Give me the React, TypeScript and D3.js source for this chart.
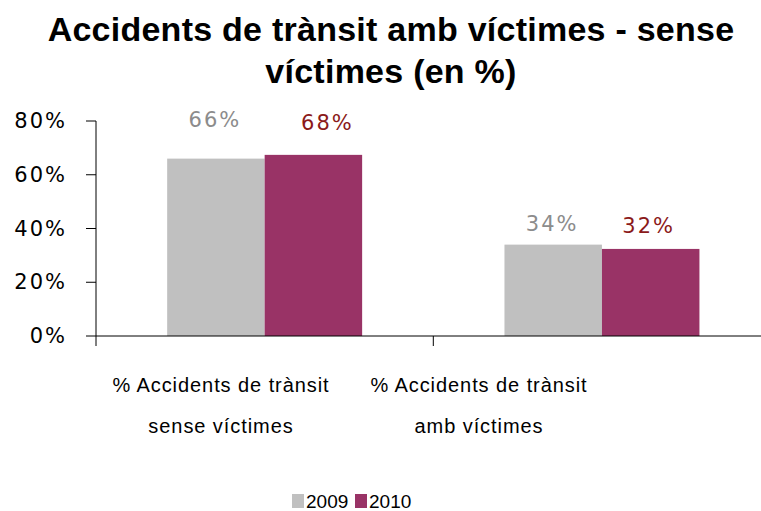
import React from "react";
import * as d3 from "d3";

const categories = ["sense", "amb"];
const categoryLines = [
  ["% Accidents de trànsit", "sense víctimes"],
  ["% Accidents de trànsit", "amb víctimes"],
];
const seriesNames = ["2009", "2010"];
const values2009 = [66, 34];
const values2010 = [67.4, 32.4];
const valueLabels2009 = ["66%", "34%"];
const valueLabels2010 = ["68%", "32%"];
const yTicks = [0, 20, 40, 60, 80];
const titleLines = ["Accidents de trànsit amb víctimes - sense", "víctimes (en %)"];

const W = 761;
const H = 511;
const colors = ["#C0C0C0", "#993366"];
const labelColors = ["#8C8C8C", "#8B1A1A"];
// manual label placement relative to bar top / bar centre (as in the source)
const labelDy = [
  [32, 14],
  [25, 16],
];
const labelDx = [
  [-2, -2],
  [13, -3],
];

export default function App() {
  const left = 96;
  const right = 770.6;
  const top = 121;
  const bottom = 336;
  const x = d3.scaleBand<string>().domain(categories).range([left, right]);
  const y = d3.scaleLinear().domain([0, 80]).range([bottom, top]);
  const inner = d3
    .scaleBand<string>()
    .domain(seriesNames)
    .range([0, x.bandwidth()])
    .paddingInner(0)
    .paddingOuter(0.73);
  const labelX = d3.scalePoint<string>().domain(categories).range([221, 479]);
  const series = [values2009, values2010];
  const seriesLabels = [valueLabels2009, valueLabels2010];
  const sans = "'Liberation Sans', Arial, sans-serif";
  const wide = "'DejaVu Sans', sans-serif";

  return (
    <svg width={W} height={H} style={{ position: "absolute", left: 0, top: 0, background: "#fff" }}>
      <rect x={0} y={0} width={W} height={H} fill="#fff" />
      {titleLines.map((t, i) => (
        <text
          key={i}
          x={391}
          y={41 + i * 42}
          textAnchor="middle"
          fontFamily={sans}
          fontWeight="bold"
          fontSize={34}
          letterSpacing={0.25}
          fill="#000"
        >
          {t}
        </text>
      ))}
      {/* bars */}
      {series.map((vals, si) =>
        vals.map((v, ci) => (
          <rect
            key={`${si}-${ci}`}
            x={(x(categories[ci]) as number) + (inner(seriesNames[si]) as number)}
            y={y(v)}
            width={inner.bandwidth()}
            height={bottom - y(v)}
            fill={colors[si]}
          />
        ))
      )}
      {/* value labels */}
      {series.map((vals, si) =>
        vals.map((v, ci) => (
          <text
            key={`l${si}-${ci}`}
            x={
              (x(categories[ci]) as number) +
              (inner(seriesNames[si]) as number) +
              inner.bandwidth() / 2 +
              labelDx[si][ci] +
              1
            }
            y={y(v) - labelDy[si][ci]}
            textAnchor="middle"
            fontFamily={wide}
            fontSize={21}
            letterSpacing={2}
            fill={labelColors[si]}
          >
            {seriesLabels[si][ci]}
          </text>
        ))
      )}
      {/* y axis */}
      <line x1={left} x2={left} y1={top} y2={bottom + 10} stroke="#000" strokeWidth={1} />
      {yTicks.map((t) => (
        <g key={t}>
          <line x1={left - 10} x2={left} y1={y(t)} y2={y(t)} stroke="#000" />
          <text
            x={67}
            y={y(t) + 7}
            textAnchor="end"
            fontFamily={wide}
            fontSize={21}
            letterSpacing={2}
            fill="#000"
          >
            {t}%
          </text>
        </g>
      ))}
      {/* x axis */}
      <line x1={left} x2={right} y1={bottom} y2={bottom} stroke="#000" />
      {categories.map((c, i) =>
        i > 0 ? (
          <line key={c} x1={x(c)} x2={x(c)} y1={bottom} y2={bottom + 10} stroke="#000" />
        ) : null
      )}
      {categories.map((c, i) =>
        categoryLines[i].map((ln, j) => (
          <text
            key={`${c}-${j}`}
            x={labelX(c)}
            y={392 + j * 41}
            textAnchor="middle"
            fontFamily={sans}
            fontSize={20}
            letterSpacing={0.93}
            fill="#000"
          >
            {ln}
          </text>
        ))
      )}
      {/* legend */}
      {seriesNames.map((s, i) => (
        <g key={s} transform={`translate(${292 + i * 63},0)`}>
          <rect x={0} y={494} width={12} height={14} fill={colors[i]} />
          <text x={14} y={508} fontFamily={sans} fontSize={19} fill="#000">
            {s}
          </text>
        </g>
      ))}
    </svg>
  );
}
